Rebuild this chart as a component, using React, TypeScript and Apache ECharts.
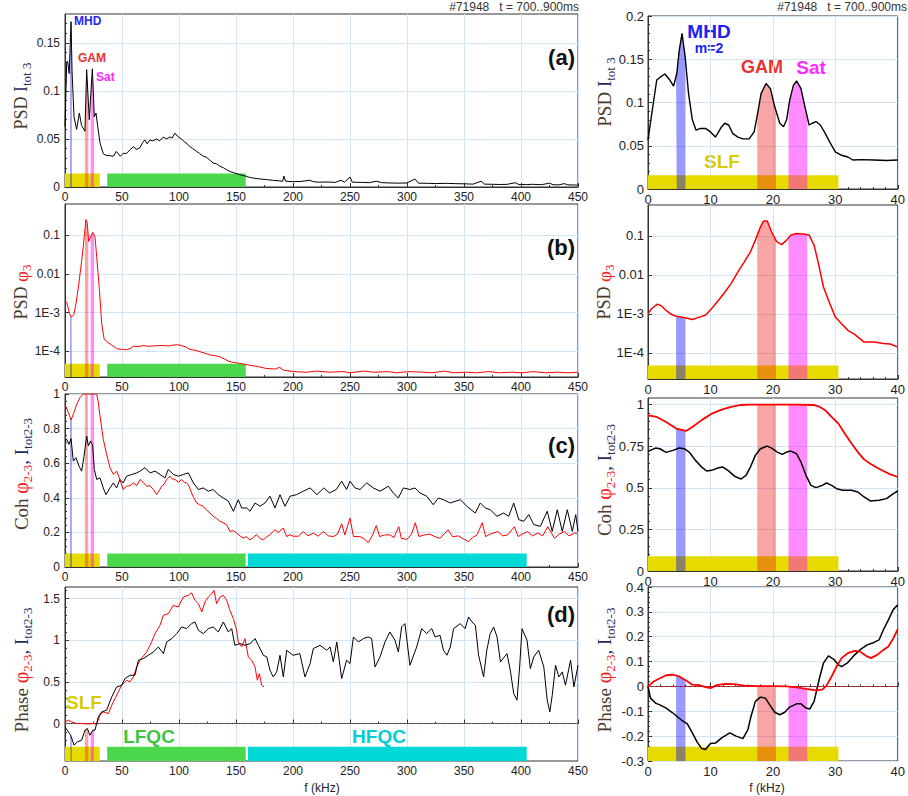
import React, { useEffect, useRef } from "react";
import * as echarts from "echarts";

// ---------- data ----------
const BAND_MHD = [4.5, 6.0];
const BAND_GAM = [17.5, 20.5];
const BAND_SAT = [22.5, 25.5];
const RANGE_SLF = [0, 30.5];
const RANGE_LFQC = [37, 158.5];
const RANGE_HFQC = [160.5, 405];

const LEFT_X_TICKS = [0, 50, 100, 150, 200, 250, 300, 350, 400, 450];
const RIGHT_X_TICKS = [0, 10, 20, 30, 40];
const LA_Y_TICKS = [0, 0.05, 0.1, 0.15];
const LB_Y_TICKS = [1e-4, 1e-3, 0.01, 0.1];
const LC_Y_TICKS = [0, 0.2, 0.4, 0.6, 0.8, 1];
const LD_Y_TICKS = [0, 0.5, 1, 1.5];
const RA_Y_TICKS = [0, 0.05, 0.1, 0.15, 0.2];
const RB_Y_TICKS = [1e-4, 1e-3, 0.01, 0.1];
const RC_Y_TICKS = [0, 0.25, 0.5, 0.75, 1];
const RD_Y_TICKS = [-0.3, -0.2, -0.1, 0, 0.1, 0.2, 0.3, 0.4];

// left (a): PSD I_tot3, 0..450 kHz
const L_A_I = [
  [0, 0.063], [1.5, 0.13], [2.3, 0.131], [3.7, 0.118], [5.3, 0.172], [6.2, 0.12], [7.9, 0.073], [10.2, 0.06],
  [12.6, 0.077], [14.5, 0.064], [17.5, 0.058], [19, 0.122], [21.3, 0.07], [24, 0.123], [25.7, 0.073], [27.2, 0.077],
  [28.7, 0.063], [30.7, 0.046], [33.6, 0.0345], [36, 0.033], [39.5, 0.0325], [42.5, 0.032], [45, 0.037], [48.5, 0.032],
  [51, 0.035], [54, 0.035], [57, 0.0387], [60, 0.042], [63, 0.039], [65.8, 0.041], [68, 0.046], [70, 0.049],
  [72, 0.045], [74.6, 0.049], [77, 0.048], [80.4, 0.05], [83, 0.048], [86.3, 0.052], [89, 0.05], [92, 0.052],
  [94, 0.051], [96.5, 0.056], [98.5, 0.053], [100.9, 0.051], [103, 0.049], [105, 0.047], [107, 0.045], [109.6, 0.042],
  [112, 0.04], [115.5, 0.037], [118, 0.035], [121.3, 0.032], [124, 0.031], [127, 0.028], [130, 0.025], [133, 0.024],
  [136, 0.0215], [139, 0.02], [141.8, 0.018], [145, 0.016], [147.7, 0.0151], [150, 0.014], [153.5, 0.0128], [156, 0.012],
  [159.4, 0.011], [162, 0.01], [165, 0.0093], [170, 0.0085], [176.9, 0.0077], [182, 0.007], [187, 0.0065], [191, 0.006],
  [192, 0.0113], [193.5, 0.006], [200, 0.0055], [207, 0.0058], [214.6, 0.007], [218, 0.0055], [223, 0.005], [230, 0.0052],
  [237, 0.0048], [242, 0.007], [245, 0.005], [250, 0.0104], [252, 0.005], [260, 0.0048], [267, 0.0045], [273, 0.006],
  [278, 0.0045], [285, 0.0042], [292, 0.004], [300, 0.0042], [307, 0.0083], [310, 0.004], [318, 0.0038], [326, 0.0036],
  [335, 0.0038], [342, 0.0035], [350, 0.0033], [358, 0.003], [365, 0.006], [368, 0.003], [375, 0.0028], [382, 0.0026],
  [388, 0.0028], [395, 0.0045], [398, 0.0026], [405, 0.0025], [410, 0.0028], [418, 0.0024], [425, 0.004], [428, 0.0024],
  [433, 0.0022], [438, 0.0035], [441, 0.0022], [446, 0.0021], [450, 0.002],
];

// left (b): PSD phi3 (log)
const L_B_PHI = [
  [0, 1.74e-3], [1.5, 1.86e-3], [3.9, 9.5e-4], [5.7, 7.6e-4], [7.7, 8.7e-4], [9.7, 1.74e-3], [12, 5.1e-3], [14.5, 2.04e-2],
  [16.2, 5.5e-2], [17.5, 0.14], [18.4, 0.25], [19.5, 0.2], [20.8, 6.8e-2], [22.5, 9.1e-2], [24.3, 0.117], [26.3, 9.1e-2],
  [27.8, 2.75e-2], [30.2, 3.8e-3], [32.2, 5.2e-4], [34.3, 2.1e-4], [36.6, 1.78e-4], [41, 1.45e-4], [45.3, 1.17e-4],
  [49.7, 1.12e-4], [54, 1.1e-4], [57, 1.17e-4], [60, 1.35e-4], [64, 1.32e-4], [68.6, 1.41e-4], [73, 1.35e-4],
  [77.5, 1.38e-4], [82, 1.41e-4], [86.3, 1.41e-4], [91, 1.38e-4], [95, 1.45e-4], [99, 1.48e-4], [102.3, 1.41e-4],
  [106, 1.29e-4], [109.6, 1.12e-4], [114, 1.07e-4], [118.4, 9.8e-5], [122, 9.1e-5], [127, 8.1e-5], [131, 7.8e-5],
  [136, 7.2e-5], [140, 6.3e-5], [144.7, 5.4e-5], [149, 5.1e-5], [153.5, 4.9e-5], [158, 4.6e-5], [162, 4.4e-5],
  [170, 4.0e-5], [177, 3.6e-5], [185, 3.5e-5], [188, 3.9e-5], [191.5, 3.3e-5], [200, 3.0e-5], [212, 2.9e-5],
  [221, 3.1e-5], [232, 2.9e-5], [244, 3.0e-5], [250, 2.8e-5], [262, 3.1e-5], [271, 2.9e-5], [283, 3.0e-5],
  [291, 2.8e-5], [302, 3.0e-5], [314, 2.9e-5], [322, 2.8e-5], [333, 3.1e-5], [341, 2.8e-5], [352, 2.9e-5],
  [361, 2.8e-5], [372, 3.0e-5], [381, 2.8e-5], [392, 2.9e-5], [400, 2.8e-5], [411, 3.0e-5], [421, 2.8e-5],
  [432, 2.9e-5], [441, 2.8e-5], [450, 2.9e-5],
];

// left (c): coherence
const L_C_PHI = [
  [0, 0.94], [2.9, 0.893], [5.3, 0.85], [7.9, 0.893], [10.2, 0.94], [13.2, 0.98], [16, 1.0], [20, 1.0], [24, 1.0],
  [27.8, 1.0], [29, 0.96], [30.7, 0.874], [33.6, 0.738], [36.5, 0.651], [39.5, 0.574], [42.4, 0.535], [45.3, 0.554],
  [48.2, 0.506], [51, 0.448], [54, 0.467], [57, 0.47], [60, 0.486], [63, 0.47], [65.8, 0.506], [68.5, 0.49],
  [71.6, 0.467], [74.5, 0.47], [77.5, 0.448], [80.4, 0.418], [82.5, 0.44], [84.8, 0.467], [87, 0.48], [89.2, 0.506],
  [92, 0.525], [94, 0.51], [96.5, 0.506], [99.5, 0.49], [102.3, 0.506], [104.5, 0.49], [106.7, 0.486], [109, 0.465],
  [111, 0.428], [113, 0.4], [115.5, 0.37], [118, 0.36], [121.3, 0.35], [124, 0.33], [127.2, 0.312], [130, 0.293],
  [133, 0.28], [136, 0.264], [139, 0.255], [141.8, 0.244], [144.7, 0.206], [147.5, 0.21], [150.6, 0.196],
  [153.5, 0.18], [156.4, 0.167], [159, 0.175], [162.3, 0.157], [165, 0.17], [168, 0.187], [171, 0.165], [174, 0.157],
  [177, 0.175], [180, 0.187], [184, 0.216], [187, 0.2], [191.5, 0.225], [194.5, 0.176], [197.4, 0.187], [200, 0.178],
  [204.7, 0.178], [209, 0.205], [213, 0.18], [217.8, 0.196], [222, 0.178], [226.6, 0.205], [231, 0.18], [235.4, 0.176],
  [239, 0.19], [242.7, 0.25], [245.5, 0.185], [250, 0.283], [253, 0.176], [258.6, 0.176], [262, 0.165], [266, 0.141],
  [269.5, 0.18], [273, 0.239], [276, 0.176], [280, 0.185], [285, 0.186], [288.5, 0.17], [292.8, 0.233], [295, 0.166],
  [300, 0.16], [304, 0.19], [307.3, 0.256], [310.5, 0.176], [315, 0.185], [320, 0.19], [324.5, 0.175], [328.8, 0.166],
  [332.5, 0.19], [336, 0.215], [340, 0.175], [345, 0.18], [350, 0.16], [354, 0.147], [357.5, 0.17], [361.5, 0.186],
  [366, 0.256], [369, 0.176], [373, 0.19], [379.6, 0.205], [384, 0.18], [388.4, 0.186], [394.2, 0.233], [397.5, 0.176],
  [401, 0.19], [405.9, 0.205], [410, 0.18], [414.7, 0.196], [419, 0.18], [423.5, 0.233], [429.4, 0.166], [433.5, 0.19],
  [438.2, 0.205], [442, 0.18], [447, 0.196], [450, 0.196],
];
const L_C_I = [
  [0, 0.729], [1.5, 0.738], [3.5, 0.709], [5.3, 0.742], [7.3, 0.612], [9.6, 0.632], [12.3, 0.583], [14.6, 0.554],
  [16.7, 0.64], [19, 0.757], [20.5, 0.7], [22.5, 0.729], [24.3, 0.7], [25.7, 0.564], [27.8, 0.506], [30.7, 0.515],
  [33.6, 0.457], [35.9, 0.418], [39.5, 0.457], [42.4, 0.486], [45.3, 0.457], [48.2, 0.506], [51, 0.486], [54, 0.525],
  [58.5, 0.535], [62.9, 0.544], [65.8, 0.554], [70.2, 0.574], [74.6, 0.544], [79, 0.554], [83.3, 0.535], [87.7, 0.515],
  [90.6, 0.564], [95, 0.535], [99.4, 0.525], [103.8, 0.535], [108.2, 0.544], [112.6, 0.486], [117, 0.448],
  [121.3, 0.457], [125.7, 0.438], [130, 0.448], [134.5, 0.418], [138.9, 0.399], [143.3, 0.38], [147.7, 0.322],
  [152, 0.389], [155, 0.341], [159.4, 0.341], [162.3, 0.322], [166.7, 0.37], [171, 0.351], [175.4, 0.37],
  [179.8, 0.409], [184.2, 0.341], [188.6, 0.418], [191, 0.38], [193, 0.351], [197.4, 0.409], [203, 0.418],
  [209, 0.438], [215, 0.457], [221, 0.418], [227, 0.457], [232, 0.428], [238, 0.448], [242.7, 0.496], [247, 0.448],
  [250, 0.496], [254.4, 0.457], [258.8, 0.448], [264.6, 0.486], [270.5, 0.457], [276.3, 0.438], [283.6, 0.467],
  [288, 0.428], [292.4, 0.399], [296.8, 0.457], [302.6, 0.448], [307, 0.457], [311.4, 0.428], [317.3, 0.409],
  [323, 0.36], [327.6, 0.399], [332, 0.389], [337.9, 0.37], [346.7, 0.389], [352.6, 0.351], [359.9, 0.312],
  [364.3, 0.37], [368.7, 0.341], [373, 0.331], [379, 0.293], [384.8, 0.312], [389.2, 0.293], [393.6, 0.37],
  [398, 0.274], [402.4, 0.264], [406.8, 0.303], [411.2, 0.245], [417, 0.235], [423, 0.322], [427.4, 0.206],
  [431.8, 0.331], [436.2, 0.206], [440.6, 0.331], [445, 0.206], [448, 0.303], [450, 0.206],
];

// left (d): phase
const L_D_PHI = [
  [0, 0.02], [2.9, 0.04], [5.8, 0.02], [10.2, 0.0], [15, 0.0], [20, -0.005], [25, 0.0], [27.8, -0.01], [30.7, 0.1],
  [33.6, 0.14], [38, 0.12], [41, 0.22], [43.9, 0.3], [46.8, 0.38], [49.7, 0.46], [54, 0.52], [57, 0.5], [60, 0.56],
  [62.9, 0.68], [65.8, 0.76], [71.6, 0.86], [76, 0.98], [79, 1.08], [83.3, 1.18], [86.3, 1.3], [90.6, 1.32],
  [95, 1.42], [99.4, 1.4], [103.8, 1.52], [108.2, 1.54], [111, 1.57], [114, 1.48], [117, 1.44], [120, 1.34],
  [122.8, 1.46], [125.7, 1.52], [128.7, 1.56], [130.7, 1.6], [133, 1.44], [136, 1.52], [138.9, 1.54], [141.8, 1.48],
  [144.7, 1.36], [147.7, 1.26], [150.6, 1.12], [152, 0.98], [155, 0.92], [157.9, 1.02], [160.8, 0.8], [163.7, 0.76],
  [166.7, 0.68], [168.7, 0.52], [170.5, 0.6], [172.5, 0.46], [174.6, 0.44],
];
const L_D_I = [
  [0, -0.04], [2.9, -0.1], [5, -0.14], [7.9, -0.26], [10.8, -0.22], [14.6, -0.2], [17.5, -0.08], [19.6, -0.06],
  [21.9, -0.14], [24.3, -0.08], [26.3, -0.08], [27.8, 0.0], [29.2, 0.08], [32.2, 0.14], [36.5, 0.16], [41, 0.32],
  [45.3, 0.44], [49.7, 0.46], [52.6, 0.54], [57, 0.58], [61.4, 0.58], [64.3, 0.76], [68.7, 0.78], [73, 0.82],
  [77.5, 0.86], [81.9, 0.92], [86.3, 0.84], [89.2, 0.98], [93.6, 1.02], [98, 1.08], [102.3, 1.16], [106.7, 1.14],
  [111, 1.2], [114, 1.22], [117, 1.12], [121.3, 1.08], [125.7, 1.14], [130, 1.16], [134.5, 1.1], [138.9, 1.22],
  [143.3, 1.1], [146.2, 1.14], [149, 0.94], [153.5, 0.96], [157.9, 0.94], [162.3, 0.96], [166.7, 1.02], [169.6, 0.94],
  [174, 0.82], [177, 0.8], [179.8, 0.64], [182.7, 0.56], [185.7, 0.62], [188.6, 0.82], [191.5, 0.56], [194.5, 0.88],
  [200, 0.82], [206, 0.84], [210.5, 0.56], [215, 0.72], [217.8, 0.9], [223.7, 0.94], [229.5, 0.88], [232.5, 0.92],
  [235.4, 0.74], [238.4, 0.98], [242.7, 0.54], [247, 0.76], [250, 0.72], [253, 1.04], [257.3, 0.98], [261.7, 1.02],
  [266, 1.04], [269, 1.02], [272, 0.68], [276.3, 0.8], [280.7, 0.98], [285, 1.1], [289.5, 1.0], [292.4, 0.86],
  [295.3, 1.16], [298.2, 1.2], [301, 0.88], [302.6, 0.7], [308.5, 0.92], [312.9, 1.14], [317.3, 1.08], [321.7, 1.14],
  [324.6, 1.04], [329, 1.06], [332, 0.88], [335, 0.82], [338, 0.92], [340.9, 1.14], [346.7, 1.2], [351, 1.14],
  [354, 1.28], [357, 1.22], [360, 1.18], [362.8, 0.82], [367.2, 0.56], [370, 0.88], [373, 1.08], [376, 1.16],
  [379, 1.04], [382, 0.74], [387.7, 0.84], [390.6, 0.64], [393.6, 0.36], [396.5, 0.28], [398.8, 0.68], [400.9, 1.14],
  [405.3, 1.0], [408.2, 0.66], [411.2, 0.8], [415.5, 0.88], [420, 0.68], [423, 0.28], [425.3, 0.14], [427.4, 0.34],
  [430.3, 0.7], [433.2, 0.56], [436.2, 0.62], [439, 0.46], [443.5, 0.76], [446.4, 0.44], [450, 0.7],
];

// right panels 0..40 kHz
const R_A_I = [
  [0, 0.0565], [0.6, 0.087], [1.4, 0.126], [1.9, 0.129], [2.7, 0.133], [3.5, 0.126], [4.1, 0.119], [4.6, 0.133],
  [5, 0.16], [5.45, 0.18], [5.95, 0.153], [6.5, 0.11], [7.1, 0.08], [7.7, 0.068], [8.4, 0.07], [9.2, 0.07], [10, 0.066],
  [10.8, 0.06], [11.3, 0.066], [11.8, 0.072], [12.3, 0.076], [12.9, 0.074], [13.6, 0.064], [14.4, 0.06], [15.2, 0.058],
  [16.2, 0.058], [17, 0.066], [17.5, 0.085], [18.1, 0.11], [18.9, 0.122], [19.6, 0.116], [20.3, 0.095], [21.1, 0.076],
  [21.7, 0.072], [22.2, 0.08], [22.7, 0.103], [23.3, 0.12], [23.8, 0.125], [24.5, 0.116], [25.2, 0.093], [25.8, 0.074],
  [26.3, 0.076], [26.9, 0.078], [27.6, 0.074], [28.4, 0.064], [29.2, 0.053], [30, 0.043], [31, 0.039], [32, 0.037],
  [32.8, 0.0335], [34.1, 0.034], [36.2, 0.0335], [38.2, 0.033], [40, 0.0335],
];
const R_B_PHI = [
  [0, 1.02e-3], [0.6, 1.38e-3], [1.5, 1.78e-3], [2.2, 1.58e-3], [2.9, 1.23e-3], [3.7, 9.8e-4], [4.5, 8.7e-4],
  [5.3, 8.3e-4], [6.1, 7.9e-4], [7.1, 7.2e-4], [8.2, 8.3e-4], [9.2, 9.3e-4], [10.2, 1.38e-3], [11.3, 2.24e-3],
  [12.3, 3.6e-3], [13.3, 6.0e-3], [14.4, 0.012], [15.4, 0.0214], [16.4, 0.039], [17.2, 0.078], [18, 0.17],
  [18.5, 0.24], [19.1, 0.24], [19.8, 0.126], [20.6, 0.071], [21.4, 0.06], [22.2, 0.078], [22.9, 0.105], [23.8, 0.115],
  [24.8, 0.112], [25.8, 0.105], [26.6, 0.0575], [27.3, 0.0195], [28.1, 4.9e-3], [28.9, 2.24e-3], [30, 8.3e-4],
  [31, 5.6e-4], [32, 3.8e-4], [33.1, 3.0e-4], [34.6, 1.9e-4], [36.2, 1.9e-4], [37.7, 1.74e-4], [38.8, 1.7e-4],
  [40, 1.41e-4],
];
const R_C_PHI = [
  [0, 0.936], [1.4, 0.926], [2.9, 0.896], [4.5, 0.856], [6.1, 0.842], [7.1, 0.866], [8.7, 0.91], [10.2, 0.946],
  [11.8, 0.97], [13.3, 0.986], [14.9, 0.998], [16.4, 1.0], [20, 1.0], [24, 1.0], [26.5, 0.998], [27.3, 0.99],
  [28.4, 0.966], [29.4, 0.926], [30.5, 0.886], [31.5, 0.826], [32.6, 0.766], [33.6, 0.715], [34.6, 0.671],
  [35.6, 0.645], [36.7, 0.621], [37.7, 0.601], [38.8, 0.581], [40, 0.565],
];
const R_C_I = [
  [0, 0.719], [1.2, 0.739], [1.9, 0.735], [2.9, 0.713], [4, 0.725], [5, 0.739], [5.8, 0.735], [6.6, 0.715],
  [7.6, 0.665], [8.7, 0.621], [9.4, 0.601], [10.2, 0.605], [11.3, 0.621], [12, 0.625], [12.8, 0.605], [13.9, 0.569],
  [14.9, 0.553], [15.7, 0.575], [16.4, 0.625], [17.2, 0.695], [18, 0.735], [19.1, 0.751], [19.8, 0.739],
  [20.7, 0.715], [21.5, 0.701], [22.2, 0.715], [22.9, 0.721], [23.8, 0.705], [24.5, 0.655], [25.3, 0.575],
  [26.1, 0.515], [26.9, 0.501], [27.9, 0.515], [28.6, 0.529], [29.4, 0.515], [30.2, 0.495], [31.2, 0.485],
  [32.6, 0.485], [33.6, 0.475], [34.6, 0.445], [35.6, 0.421], [37, 0.425], [38.2, 0.435], [39.3, 0.465], [40, 0.481],
];
const R_D_PHI = [
  [0, 0], [0.9, 0.02], [1.9, 0.033], [2.9, 0.045], [4, 0.047], [5, 0.04], [6.1, 0.024], [7.1, 0.007], [8.2, 0.005],
  [9.2, -0.003], [10, -0.007], [11, 0.005], [12.3, 0.01], [13.9, 0.009], [15.4, 0.003], [17.5, 0.001], [20.1, 0.001],
  [22.2, 0.0], [23.8, -0.004], [25.3, -0.01], [26.9, -0.016], [27.9, -0.013], [28.6, 0.003], [29.4, 0.04],
  [30.2, 0.08], [31, 0.114], [32, 0.134], [33.1, 0.143], [33.9, 0.141], [34.9, 0.123], [35.7, 0.114], [36.7, 0.127],
  [37.7, 0.147], [38.5, 0.161], [39.3, 0.194], [40, 0.23],
];
const R_D_I = [
  [0, 0], [0.4, -0.047], [1.2, -0.067], [1.9, -0.074], [2.9, -0.087], [4, -0.107], [4.8, -0.124], [5.5, -0.138],
  [6.3, -0.151], [7.1, -0.187], [7.9, -0.225], [8.6, -0.25], [9.2, -0.254], [10, -0.23], [10.8, -0.228],
  [11.8, -0.207], [13.1, -0.187], [14.1, -0.2], [15.2, -0.21], [16, -0.174], [16.5, -0.12], [17.2, -0.06],
  [18, -0.043], [18.8, -0.047], [19.6, -0.078], [20.3, -0.104], [21.1, -0.114], [21.9, -0.104], [22.7, -0.083],
  [23.8, -0.07], [24.5, -0.07], [25.3, -0.087], [25.9, -0.091], [26.6, -0.06], [27.4, 0.027], [28.1, 0.094],
  [28.9, 0.123], [29.7, 0.11], [30.5, 0.087], [31, 0.08], [32, 0.096], [33.1, 0.127], [34.1, 0.15], [35.1, 0.167],
  [36.2, 0.177], [37, 0.187], [37.7, 0.228], [38.5, 0.268], [39.3, 0.31], [40, 0.328],
];

// ---------- styles ----------
const SANS = "Liberation Sans";
const SERIF = "Liberation Serif";
const C_MHD = "rgba(0,0,255,0.4)";
const C_GAM = "rgba(235,30,30,0.4)";
const C_SAT = "rgba(255,0,255,0.45)";
const C_SLF = "#e6da00";
const C_LFQC = "#4cd84c";
const C_HFQC = "#00d8d8";
const GRIDLINE = "#d3e4f7";
const AXIS = "#333";

function interpAt(curve: number[][], x: number) {
  for (let i = 0; i < curve.length - 1; i++) {
    const [x0, y0] = curve[i];
    const [x1, y1] = curve[i + 1];
    if (x >= x0 && x <= x1) return y0 + ((y1 - y0) * (x - x0)) / (x1 - x0);
  }
  return curve[curve.length - 1][1];
}
function bandPoly(curve: number[][], r: number[]) {
  const pts: number[][] = [[r[0], interpAt(curve, r[0])]];
  curve.forEach((p) => {
    if (p[0] > r[0] && p[0] < r[1]) pts.push(p);
  });
  pts.push([r[1], interpAt(curve, r[1])]);
  return pts;
}

type Panel = {
  grid: any;
  xMax: number;
  xTicks: number[];
  right: boolean;
  log?: boolean;
  yMin: number;
  yMax: number;
  yInterval?: number;
  yTicks: number[];
  curves: { data: number[][]; color: string; width: number; z: number }[];
  bandCurve: number[][];
  bars: { r: number[]; color: string }[];
  barTop: number;
  zeroLine?: { color: string; type: string; width: number };
};

const LG = (top: number, h: number) => ({ left: 65, top, width: 513, height: h });
const RG = (top: number, h: number) => ({ left: 648, top, width: 256, height: h });

const panels: Panel[] = [
  {
    grid: LG(14, 173), xMax: 450, xTicks: LEFT_X_TICKS, right: false, yMin: 0, yMax: 0.18, yInterval: 0.05, yTicks: LA_Y_TICKS,
    curves: [{ data: L_A_I, color: "#000", width: 1, z: 4 }], bandCurve: L_A_I,
    bars: [{ r: RANGE_SLF, color: C_SLF }, { r: RANGE_LFQC, color: C_LFQC }], barTop: 0.0141,
  },
  {
    grid: LG(204, 173), xMax: 450, xTicks: LEFT_X_TICKS, right: false, log: true, yMin: 2.18e-5, yMax: 0.63, yTicks: LB_Y_TICKS,
    curves: [{ data: L_B_PHI, color: "#ff0000", width: 1, z: 4 }], bandCurve: L_B_PHI,
    bars: [{ r: RANGE_SLF, color: C_SLF }, { r: RANGE_LFQC, color: C_LFQC }], barTop: 4.8e-5,
  },
  {
    grid: LG(394, 173), xMax: 450, xTicks: LEFT_X_TICKS, right: false, yMin: 0, yMax: 1, yInterval: 0.2, yTicks: LC_Y_TICKS,
    curves: [
      { data: L_C_I, color: "#000", width: 1, z: 4 },
      { data: L_C_PHI, color: "#ff0000", width: 1, z: 5 },
    ],
    bandCurve: L_C_PHI,
    bars: [{ r: RANGE_SLF, color: C_SLF }, { r: RANGE_LFQC, color: C_LFQC }, { r: RANGE_HFQC, color: C_HFQC }],
    barTop: 0.078,
  },
  {
    grid: LG(587, 174), xMax: 450, xTicks: LEFT_X_TICKS, right: false, yMin: -0.45, yMax: 1.64, yTicks: LD_Y_TICKS,
    curves: [
      { data: L_D_PHI, color: "#ff0000", width: 1, z: 4 },
      { data: L_D_I, color: "#000", width: 1, z: 5 },
    ],
    bandCurve: L_D_I,
    bars: [{ r: RANGE_SLF, color: C_SLF }, { r: RANGE_LFQC, color: C_LFQC }, { r: RANGE_HFQC, color: C_HFQC }],
    barTop: -0.28,
    zeroLine: { color: "#777", type: "dotted", width: 1.2 },
  },
  {
    grid: RG(16, 173), xMax: 40, xTicks: RIGHT_X_TICKS, right: true, yMin: 0, yMax: 0.2, yInterval: 0.05, yTicks: RA_Y_TICKS,
    curves: [{ data: R_A_I, color: "#000", width: 1.4, z: 4 }], bandCurve: R_A_I,
    bars: [{ r: RANGE_SLF, color: C_SLF }], barTop: 0.016,
  },
  {
    grid: RG(205, 174), xMax: 40, xTicks: RIGHT_X_TICKS, right: true, log: true, yMin: 2.15e-5, yMax: 0.62, yTicks: RB_Y_TICKS,
    curves: [{ data: R_B_PHI, color: "#ff0000", width: 1.5, z: 4 }], bandCurve: R_B_PHI,
    bars: [{ r: RANGE_SLF, color: C_SLF }], barTop: 4.8e-5,
  },
  {
    grid: RG(398, 173), xMax: 40, xTicks: RIGHT_X_TICKS, right: true, yMin: 0, yMax: 1.04, yInterval: 0.25, yTicks: RC_Y_TICKS,
    curves: [
      { data: R_C_I, color: "#000", width: 1.5, z: 4 },
      { data: R_C_PHI, color: "#ff0000", width: 1.8, z: 5 },
    ],
    bandCurve: R_C_PHI,
    bars: [{ r: RANGE_SLF, color: C_SLF }], barTop: 0.088,
  },
  {
    grid: RG(587, 174), xMax: 40, xTicks: RIGHT_X_TICKS, right: true, yMin: -0.3, yMax: 0.4, yInterval: 0.1, yTicks: RD_Y_TICKS,
    curves: [
      { data: R_D_I, color: "#000", width: 1.5, z: 4 },
      { data: R_D_PHI, color: "#ff0000", width: 1.8, z: 5 },
    ],
    bandCurve: R_D_PHI,
    bars: [{ r: RANGE_SLF, color: C_SLF }], barTop: -0.243,
    zeroLine: { color: "#ff3030", type: "dashed", width: 0.8 },
  },
];

function logLabel(v: number) {
  if (v >= 0.01) return String(v);
  return "1E" + Math.round(Math.log10(v));
}

function buildOption() {
  const grid: any[] = [];
  const xAxis: any[] = [];
  const yAxis: any[] = [];
  const series: any[] = [];

  panels.forEach((p, i) => {
    const fs = p.right ? 13 : 12;
    grid.push({ ...p.grid, show: true, borderColor: AXIS, borderWidth: 1, backgroundColor: "transparent" });
    xAxis.push({
      type: "value",
      gridIndex: i,
      min: 0,
      max: p.xMax,
      interval: p.xTicks[1] - p.xTicks[0],
      axisLine: { show: true, lineStyle: { color: AXIS } },
      axisTick: { show: true, inside: true, length: 4, lineStyle: { color: AXIS } },
      minorTick: { show: true, splitNumber: p.right ? 5 : 2, length: 2, lineStyle: { color: AXIS } },
      axisLabel: { fontFamily: SANS, fontSize: fs, color: "#222", margin: 4 },
      splitLine: { show: true, lineStyle: { color: GRIDLINE, width: 1 } },
    });
    const y: any = {
      type: p.log ? "log" : "value",
      gridIndex: i,
      min: p.yMin,
      max: p.yMax,
      axisLine: { show: true, lineStyle: { color: AXIS } },
      axisTick: { show: true, inside: true, length: 4, customValues: p.yTicks, lineStyle: { color: AXIS } },
      axisLabel: {
        customValues: p.yTicks,
        fontFamily: SANS,
        fontSize: fs,
        color: "#222",
        margin: p.right ? 4 : 5,
        formatter: p.log ? (v: number) => logLabel(v) : (v: number) => String(v),
      },
      splitLine: { show: true, lineStyle: { color: GRIDLINE, width: 1 } },
    };
    if (p.log) y.logBase = 10;
    else y.minorTick = { show: true, splitNumber: 5, length: 2, lineStyle: { color: AXIS } };
    if (p.yInterval) y.interval = p.yInterval;
    yAxis.push(y);

    // bottom bars (SLF / LFQC / HFQC)
    const yMin = p.yMin;
    series.push({
      type: "custom",
      xAxisIndex: i,
      yAxisIndex: i,
      z: 1,
      silent: true,
      clip: true,
      encode: { x: [0, 1], y: 2 },
      data: p.bars.map((b) => ({ value: [b.r[0], b.r[1], p.barTop], itemStyle: { color: b.color } })),
      renderItem: (params: any, api: any) => {
        const a = api.coord([api.value(0), api.value(2)]);
        const b = api.coord([api.value(1), yMin]);
        return {
          type: "rect",
          shape: { x: a[0], y: a[1], width: b[0] - a[0], height: b[1] - a[1] },
          style: { fill: api.visual("color") },
        };
      },
    });

    // shaded bands under the curve
    [
      [BAND_MHD, C_MHD],
      [BAND_GAM, C_GAM],
      [BAND_SAT, C_SAT],
    ].forEach(([r, c]: any) => {
      series.push({
        type: "line",
        xAxisIndex: i,
        yAxisIndex: i,
        z: 2,
        silent: true,
        symbol: "none",
        showSymbol: false,
        data: bandPoly(p.bandCurve, r),
        lineStyle: { width: 0, opacity: 0 },
        areaStyle: { color: c, opacity: 1, origin: "start" },
      });
    });

    if (p.zeroLine) {
      series.push({
        type: "line",
        xAxisIndex: i,
        yAxisIndex: i,
        z: 3,
        silent: true,
        symbol: "none",
        data: [],
        markLine: {
          silent: true,
          z: 3,
          symbol: "none",
          label: { show: false },
          lineStyle: p.zeroLine,
          data: [{ yAxis: 0 }],
        },
      });
    }

    p.curves.forEach((c) => {
      series.push({
        type: "line",
        xAxisIndex: i,
        yAxisIndex: i,
        z: c.z,
        silent: true,
        symbol: "none",
        showSymbol: false,
        data: c.data,
        lineStyle: { color: c.color, width: c.width },
      });
    });
  });

  const titleRich = (m: number, s: number) => ({
    w: { fontFamily: SERIF, fontSize: m, lineHeight: m + 6, fill: "#4a3a2c" },
    i: { fontFamily: SERIF, fontSize: m, lineHeight: m + 6, fill: "#1e2b5c" },
    is: { fontFamily: SERIF, fontSize: s, lineHeight: s, verticalAlign: "bottom", fill: "#1e2b5c" },
    p: { fontFamily: SERIF, fontSize: m + 1, lineHeight: m + 6, fill: "#ff1a1a" },
    ps: { fontFamily: SERIF, fontSize: s, lineHeight: s, verticalAlign: "bottom", fill: "#ff1a1a" },
  });
  const yTitle = (x: number, y: number, text: string, m: number, s: number) => ({
    type: "text",
    x,
    y,
    rotation: Math.PI / 2,
    silent: true,
    style: { text, rich: titleRich(m, s), align: "center", verticalAlign: "middle" },
  });
  const label = (x: number, y: number, text: string, size: number, fill: string, align = "center", weight = "bold") => ({
    type: "text",
    x,
    y,
    silent: true,
    style: {
      text,
      fill,
      font: `${weight} ${size}px "${SANS}"`,
      align,
      verticalAlign: "middle",
    },
  });

  const T_A = "{w|PSD }{i|I}{is|tot 3}";
  const T_B = "{w|PSD }{p|φ}{ps|3}";
  const T_C = "{w|Coh }{p|φ}{ps|2-3}{i|, I}{is|tot2-3}";
  const T_D = "{w|Phase }{p|φ}{ps|2-3}{i|, I}{is|tot2-3}";

  const graphic: any[] = [
    yTitle(21, 96, T_A, 18, 13),
    yTitle(21, 292, T_B, 18, 13),
    yTitle(21, 474, T_C, 19, 13),
    yTitle(21, 670, T_D, 19, 13),
    yTitle(604, 92, T_A, 19, 13),
    yTitle(604, 292, T_B, 18, 13),
    yTitle(604, 480, T_C, 19, 13),
    yTitle(604, 670, T_D, 19, 13),

    label(579, 7, "#71948   t = 700..900ms", 12, "#333", "right", "normal"),
    label(907, 7, "#71948   t = 700..900ms", 12, "#333", "right", "normal"),

    label(575, 57, "(a)", 22, "#111", "right"),
    label(575, 247, "(b)", 22, "#111", "right"),
    label(575, 445, "(c)", 22, "#111", "right"),
    label(575, 614, "(d)", 22, "#111", "right"),

    label(74, 21, "MHD", 12, "#2828f0", "left"),
    label(78, 58, "GAM", 12, "#e83232", "left"),
    label(96, 77, "Sat", 12, "#ff2aff", "left"),

    label(709, 31, "MHD", 19, "#2020f0"),
    label(709, 48, "m=2", 14, "#2020f0"),
    label(762, 67, "GAM", 18, "#e83232"),
    label(811, 67, "Sat", 19, "#ff2aff"),
    label(722, 161, "SLF", 19, "#d8cc00"),

    label(84, 702, "SLF", 19, "#d8cc00"),
    label(149, 736, "LFQC", 19, "#3fc43f"),
    label(379, 736, "HFQC", 19, "#00cfd6"),

    label(322, 788, "f (kHz)", 12, "#222", "center", "normal"),
    label(767, 788, "f (kHz)", 12, "#222", "center", "normal"),
  ];

  return {
    animation: false,
    backgroundColor: "#ffffff",
    textStyle: { fontFamily: SANS },
    grid,
    xAxis,
    yAxis,
    series,
    graphic,
  };
}

export default function App() {
  const ref = useRef<HTMLDivElement>(null);
  useEffect(() => {
    if (!ref.current) return;
    const chart = echarts.init(ref.current, null, { renderer: "svg" });
    chart.setOption(buildOption() as any);
    return () => chart.dispose();
  }, []);
  return (
    <div
      ref={ref}
      style={{ position: "fixed", left: 0, top: 0, width: 908, height: 796, background: "#fff" }}
    />
  );
}
